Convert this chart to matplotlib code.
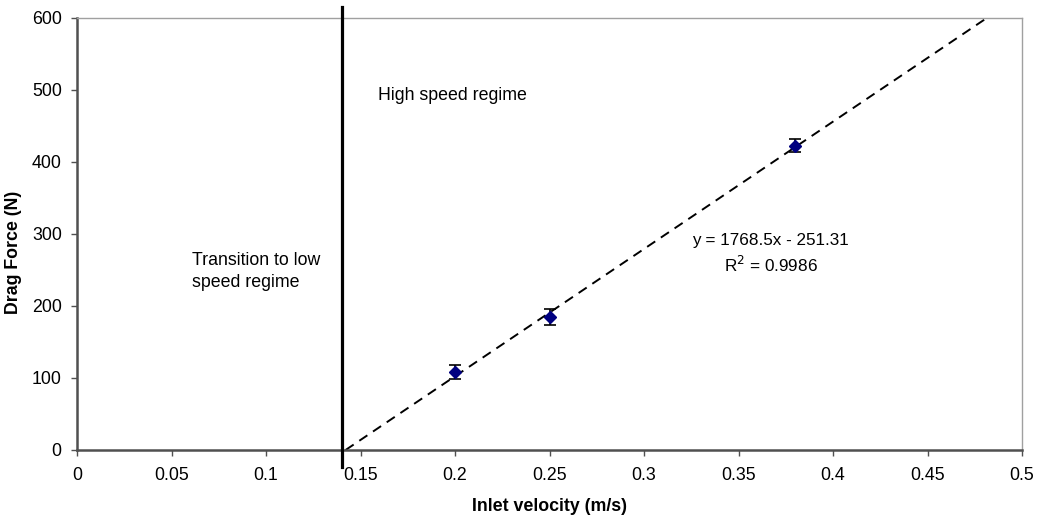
import matplotlib
matplotlib.use("Agg")
import matplotlib.pyplot as plt
import numpy as np

plt.rcParams['font.family'] = ['Liberation Sans', 'DejaVu Sans']

# measured drag force vs inlet velocity
velocity = [0.20, 0.25, 0.38]
drag = [108.5, 185.0, 422.5]
drag_err = [10, 11, 9]

# linear trendline from the spreadsheet fit
slope, intercept = 1768.5, -251.31
trend_x_end = 0.48
transition_v = 0.14

xticks = [0, 0.05, 0.1, 0.15, 0.2, 0.25, 0.3, 0.35, 0.4, 0.45, 0.5]
xtick_labels = ['0', '0.05', '0.1', '0.15', '0.2', '0.25', '0.3', '0.35', '0.4', '0.45', '0.5']
yticks = [0, 100, 200, 300, 400, 500, 600]

FS = 12.8

fig = plt.figure(figsize=(10.38, 5.17), dpi=100)
ax = fig.add_axes([0.0742, 0.1296, 0.9104, 0.8356])

tx = np.array([-intercept / slope, trend_x_end])
ax.plot(tx, slope * tx + intercept, color='black', lw=1.4, ls=(0, (5, 3.5)), zorder=2)

ax.errorbar(velocity, drag, yerr=drag_err, fmt='D', color='#000080', ms=6,
            ecolor='black', elinewidth=1.2, capsize=4.5, capthick=1.2, zorder=3)

ax.plot([transition_v, transition_v], [-0.04, 1.025], color='black', lw=2.3,
        transform=ax.get_xaxis_transform(), clip_on=False, zorder=4)

ax.text(0.159, 492, 'High speed regime', fontsize=FS, va='center', ha='left')
ax.text(0.061, 248, 'Transition to low\nspeed regime', fontsize=FS, va='center',
        ha='left', linespacing=1.4)
ax.text(0.367, 291, 'y = 1768.5x - 251.31', fontsize=FS - 0.5, va='center', ha='center')
ax.text(0.367, 257, 'R$^2$ = 0.9986', fontsize=FS - 0.5, va='center', ha='center')

ax.set_xlim(0, 0.5)
ax.set_ylim(0, 600)
ax.set_xticks(xticks)
ax.set_xticklabels(xtick_labels)
ax.set_yticks(yticks)
ax.tick_params(axis='both', labelsize=FS, direction='out', length=4, width=1,
               color='#505050')
ax.tick_params(axis='x', pad=8)
ax.tick_params(axis='y', pad=7)

for side in ['left', 'bottom']:
    ax.spines[side].set_color('#505050')
    ax.spines[side].set_linewidth(1.8)
for side in ['top', 'right']:
    ax.spines[side].set_color('#a0a0a0')
    ax.spines[side].set_linewidth(1.0)

ax.set_xlabel('Inlet velocity (m/s)', fontsize=FS, fontweight='bold', labelpad=10)
ax.set_ylabel('Drag Force (N)', fontsize=FS, fontweight='bold', va='center')
ax.yaxis.set_label_coords(-0.067, 0.458)

fig.savefig('out.png', dpi=100)
